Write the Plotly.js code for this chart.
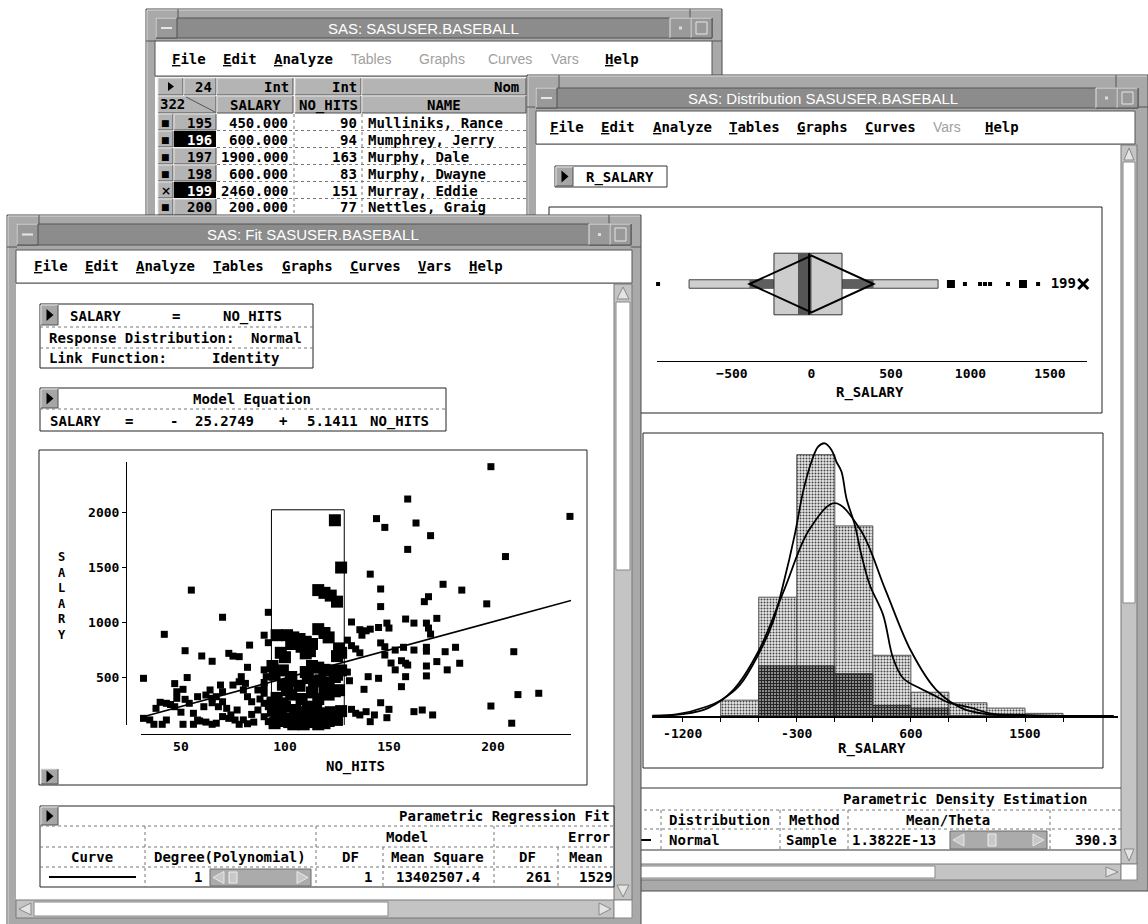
<!DOCTYPE html>
<html>
<head>
<meta charset="utf-8">
<script src="https://cdn.plot.ly/plotly-3.0.1.min.js"></script>
<style>html,body{margin:0;padding:0;background:#fff;}#chart{width:1148px;height:924px;}</style>
</head>
<body>
<div id="chart"></div>
<script>
// ================= DATA =================
// Fit window scatter: NO_HITS vs SALARY (unselected observations)
const hitsOut = [199,237,159,144,148,163,170,159,206,141,176,185,146,197,169,167,146,132,136,139,141,145,137,149,150,158,162,168,169,170,173,130,132,134,136,146,148,148,153,157,162,168,168,177,182,210,151,153,156,158,159,158,156,168,168,173,178,184,140,145,138,130,131,212,222,199,209,146,132,134,136,139,141,143,149,150,162,166,171,
  32,55,70,92,42,52,60,65,73,75,78,83,82,92,90,47,53,51,48,48,40,43,38,47,32,37,41,43,52,54,56,58,61,65,51,56,59,65,67,69,70,67,70,68,72,74,76,73,75,78,79,81,80,82,84,78,82,85,87,90,92,90,87,90,90,91,90,93,92,93,62,64,65,58,35,45,50,62,70,80,84,88,90,77];
const salaryOut = [2412,1960,2118,1940,1860,1900,1785,1660,1595,1435,1343,1290,1300,1165,1230,1185,1140,1000,930,920,935,950,880,990,945,1027,990,990,945,890,1033,835,785,755,720,810,775,700,745,770,745,770,735,730,770,730,627,565,648,625,609,503,412,600,510,640,565,625,503,488,388,545,466,340,352,236,80,266,206,170,155,185,94,155,130,206,185,200,155,
  488,1290,1043,1088,888,739,691,643,715,690,685,790,588,812,880,440,495,388,366,306,270,261,215,230,124,70,70,109,297,261,170,109,230,266,70,70,100,70,80,427,366,321,275,230,215,155,109,124,427,457,503,442,382,321,275,70,75,90,200,139,94,261,382,412,565,503,352,291,230,170,336,382,306,321,110,250,180,90,140,110,160,300,450,200];
// observations inside the brushed rectangle (selected)
const hitsSel = [124,127,116,119,122,125,94,96,101,104,107,110,113,116,119,121,103,108,112,98,100,126,127,125,111,110,95,99,103,110,113,116,119,122,125,127,111,114,117,121,124,103,99,107,101,103,113,116,121,124,126,108,96,99,119,95,98,100,102,104,106,108,110,112,114,116,118,120,122,124,127,97,105,111,117,119,100,96,113,121,125,94,95,109,115];
const salarySel = [1925,1495,1290,1265,1240,1185,600,880,880,860,845,820,800,935,900,860,800,775,735,720,680,760,720,690,775,715,520,560,500,545,600,585,565,560,520,560,490,460,470,450,500,460,430,420,380,340,360,300,340,370,380,300,310,260,390,200,160,120,90,70,100,140,180,120,90,70,110,150,180,130,190,100,200,230,170,80,230,140,160,100,110,260,80,70,200];
const labeledHits = [151];
const labeledSalary = [2460];
const labeledId = ['199'];
const fitHits = [31, 238];          // fitted line end points
const fitSalary = [134, 1198];
const brushHits = [93.5, 128.5];
const brushSalary = [40, 2020];

// Distribution window: box plot of R_SALARY
const boxQuartiles = [-236, -15, 192];   // Q1, median, Q3
const boxWhiskers = [-770, 796];
const meanSd = [0, 390.3];
const medianBand = [-85, 0];
const outliersSmall = [-965, 965, 1060, 1091, 1123, 1236, 1425];
const outliersLarge = [877, 1330];
const outlierLabeled = [1709];

// Distribution window: histogram of R_SALARY
const binLeft = [-900, -600, -300, 0, 300, 600, 900, 1200, 1500];
const binCount = [6, 45, 99, 72, 23, 9, 5, 3, 1];
const binSelected = [0, 19, 19, 16, 4, 3, 0, 0, 0];
const kernelX = [-1434,-1250,-1013,-894,-750,-605,-487,-408,-316,-250,-184,-131,-79,-26,13,53,92,158,210,276,381,460,539,671,776,881,1092,1223,1486,1881];
const kernelY = [0,0.6,3.5,6.1,11.7,23.1,35.7,49.6,68.6,85,96.3,102,103.3,100.8,96.3,92.5,82.4,72.3,61,49.6,38.3,21.8,14.3,10.5,8,5.4,2.9,1,0.4,0];
const normalX = [-1440,-1400,-1200,-1000,-800,-600,-400,-200,0,200,400,600,800,1000,1200,1400,1600,1800,2200];
const normalY = [0.1,0.13,0.7,3.0,9.9,24.7,47.7,70.7,80.6,70.7,47.7,24.7,9.9,3.0,0.7,0.13,0.02,0,0];
const histTicks = [-1200,-900,-600,-300,0,300,600,900,1200,1500,1800];
const histTickText = ['-1200','','','-300','','','600','','','1500',''];

// Data table window rows
const obsIds = ['195','196','197','198','199','200'];
const salaryCol = ['450.000','600.000','1900.000','600.000','2460.000','200.000'];
const hitsCol = ['90','94','163','83','151','77'];
const nameCol = ['Mulliniks, Rance','Mumphrey, Jerry','Murphy, Dale','Murphy, Dwayne','Murray, Eddie','Nettles, Graig'];
const rowMarks = ['■','■','■','■','×','■'];
const rowSelected = [false,true,false,false,true,false];

const menuItems = ['File','Edit','Analyze','Tables','Graphs','Curves','Vars','Help'];
const menuEnabledData = [1,1,1,0,0,0,0,1];
const menuEnabledFit = [1,1,1,1,1,1,1,1];
const menuEnabledDist = [1,1,1,1,1,1,0,1];

// ================= DRAWING HELPERS =================
const W = 1148, H = 924;
const X = v => v / W, Y = v => 1 - v / H;
const MONO = 'DejaVu Sans Mono', SANS = 'Liberation Sans';
const shapes = [], ann = [];
function rect(x0,y0,x1,y1,fill,lc,lw){
  shapes.push({type:'rect',xref:'paper',yref:'paper',x0:X(x0),x1:X(x1),y0:Y(y1),y1:Y(y0),
    fillcolor: fill || 'rgba(0,0,0,0)', line:{color: lc || 'rgba(0,0,0,0)', width: lc ? (lw||1) : 0}, layer:'below'});
}
function seg(x0,y0,x1,y1,color,w,dash){
  shapes.push({type:'line',xref:'paper',yref:'paper',x0:X(x0),x1:X(x1),y0:Y(y0),y1:Y(y1),
    line:{color:color||'#000',width:w||1,dash:dash||'solid'},layer:'below'});
}
function poly(pts,fill,lc,lw){
  const d = pts.map((p,i)=>(i?'L ':'M ')+X(p[0]).toFixed(5)+' '+Y(p[1]).toFixed(5)).join(' ')+' Z';
  shapes.push({type:'path',xref:'paper',yref:'paper',path:d,fillcolor:fill||'rgba(0,0,0,0)',
    line:{color:lc||'rgba(0,0,0,0)',width:lc?(lw||1):0},layer:'below'});
}
function txt(x,y,t,o){
  o = o || {};
  ann.push({xref:'paper',yref:'paper',x:X(x),y:Y(y),text:t,showarrow:false,
    xanchor:o.a||'left',yanchor:'middle',borderpad:0,
    font:{family:o.f||MONO,size:o.s||14,color:o.c||'#000',weight:o.w||'bold'}});
}
function raised(x0,y0,x1,y1,fill){
  rect(x0,y0,x1,y1,fill||'#b4b4b4');
  seg(x0,y0,x1,y0,'#e4e4e4'); seg(x0,y0,x0,y1,'#e4e4e4');
  seg(x0,y1,x1,y1,'#505050'); seg(x1,y0,x1,y1,'#505050');
}
function playBtn(x0,y0,x1,y1){
  raised(x0,y0,x1,y1,'#a6a6a6');
  const cx=(x0+x1)/2, cy=(y0+y1)/2;
  poly([[cx-3,cy-6],[cx+4,cy],[cx-3,cy+6]],'#000');
}
function windowChrome(w){
  rect(w.x0,w.y0,w.x1,w.y1,'#a9a9a9','#4a4a4a',1);
  seg(w.x0+1,w.y0+1,w.x1-1,w.y0+1,'#dadada'); seg(w.x0+1,w.y0+1,w.x0+1,w.y1-1,'#dadada');
  seg(w.x0+32,w.y0,w.x0+32,w.ty0,'#555'); seg(w.x1-32,w.y0,w.x1-32,w.ty0,'#555');
  seg(w.x0,w.y0+32,w.tx0,w.y0+32,'#555'); seg(w.x1,w.y0+32,w.tx1,w.y0+32,'#555');
  rect(w.tx0,w.ty0,w.tx1,w.ty1,'#8c8c8c','#555',1);
  const my=(w.ty0+w.ty1)/2;
  raised(w.tx0,w.ty0,w.tx0+21,w.ty1,'#999');
  seg(w.tx0+5,my,w.tx0+16,my,'#e6e6e6',2);
  raised(w.tx1-42,w.ty0,w.tx1-21,w.ty1,'#999');
  rect(w.tx1-33,my-1.5,w.tx1-30,my+1.5,'#dcdcdc');
  raised(w.tx1-21,w.ty0,w.tx1,w.ty1,'#999');
  rect(w.tx1-16,w.ty0+4,w.tx1-5,w.ty1-4,null,'#e6e6e6',1);
  txt(w.titleX,my+0.5,w.title,{a:'center',f:SANS,s:15,c:'#ffffff',w:'normal'});
  rect(w.mx0,w.my0,w.mx1,w.my1,'#ffffff','#555',1);
}
function menus(xs,enabled,y){
  menuItems.forEach((m,i)=>{
    if(enabled[i]) txt(xs[i],y,'<u>'+m[0]+'</u>'+m.slice(1),{});
    else txt(xs[i],y,m,{c:'#a0a0a0',w:'normal',f:SANS,s:14});
  });
}
function slider(x0,y0,x1,y1,thumb){
  rect(x0,y0,x1,y1,'#ababab','#6a6a6a',1);
  const cy=(y0+y1)/2;
  poly([[x0+14,cy-6],[x0+3,cy],[x0+14,cy+6]],'#c8c8c8','#e8e8e8',1);
  poly([[x1-14,cy-6],[x1-3,cy],[x1-14,cy+6]],'#c8c8c8','#e8e8e8',1);
  rect(thumb,y0+3,thumb+8,y1-3,'#c8c8c8','#eeeeee',1);
}
function vScroll(x0,y0,x1,y1,th0,th1){
  rect(x0,y0,x1,y1,'#c4c4c4','#777',1);
  const cx=(x0+x1)/2;
  poly([[cx,y0+3],[x0+3,y0+15],[x1-3,y0+15]],'#e4e4e4','#888',1);
  rect(x0+2,th0,x1-2,th1,'#ffffff','#888',1);
  poly([[cx,y1-3],[x0+3,y1-15],[x1-3,y1-15]],'#e4e4e4','#888',1);
}
function hScroll(x0,y0,x1,y1,th0,th1,leftArrow){
  rect(x0,y0,x1,y1,'#c4c4c4','#777',1);
  const cy=(y0+y1)/2;
  if(leftArrow) poly([[x0+3,cy],[x0+15,y0+3],[x0+15,y1-3]],'#e4e4e4','#888',1);
  rect(th0,y0+2,th1,y1-2,'#ffffff','#888',1);
  poly([[x1-3,cy],[x1-15,y0+3],[x1-15,y1-3]],'#e4e4e4','#888',1);
}

// ================= WINDOW 1: data table =================
windowChrome({x0:146,y0:9,x1:722,y1:240,tx0:156,tx1:712,ty0:18,ty1:38,title:'SAS: SASUSER.BASEBALL',titleX:423,mx0:155,my0:41,mx1:712,my1:76});
menus([171,222,273,350,418,487,550,604],menuEnabledData,59);
rect(155,77,712,240,'#ffffff');
raised(158,78,183,95,'#b4b4b4'); poly([[168,82],[174,86.5],[168,91]],'#000');
raised(184,78,216,95,'#b4b4b4'); txt(213,87,'24',{a:'right'});
raised(217,78,293,95,'#b4b4b4'); txt(290,87,'Int',{a:'right'});
raised(295,78,361,95,'#b4b4b4'); txt(358,87,'Int',{a:'right'});
raised(362,78,526,95,'#b4b4b4'); txt(520,87,'Nom',{a:'right'});
raised(158,96,216,113,'#b4b4b4'); txt(159,104,'322',{}); seg(186,97,215,112,'#555');
raised(217,96,293,113,'#b4b4b4'); txt(255,105,'SALARY',{a:'center'});
raised(295,96,361,113,'#b4b4b4'); txt(328,105,'NO_HITS',{a:'center'});
raised(362,96,526,113,'#b4b4b4'); txt(444,105,'NAME',{a:'center'});
obsIds.forEach((id,i)=>{
  const y0 = 114 + i*17, y1 = y0 + 16, cy = y0 + 8.5;
  raised(158,y0,173,y1,'#b4b4b4');
  txt(165.5,cy,rowMarks[i],{a:'center',f:'DejaVu Sans',s:rowMarks[i]==='×'?12:9});
  if(rowSelected[i]){ rect(174,y0,216,y1,'#000'); txt(213,cy,id,{a:'right',c:'#fff'}); }
  else { raised(174,y0,216,y1,'#b4b4b4'); txt(213,cy,id,{a:'right'}); }
  txt(289,cy,salaryCol[i],{a:'right'});
  txt(358,cy,hitsCol[i],{a:'right'});
  txt(367,cy,nameCol[i],{});
  seg(217,y1+0.5,526,y1+0.5,'#777',1,'dot');
});
seg(294,114,294,240,'#777',1,'dot'); seg(362,114,362,240,'#777',1,'dot');

// ================= WINDOW 2: Distribution =================
windowChrome({x0:527,y0:75,x1:1148,y1:891,tx0:536,tx1:1138,ty0:88,ty1:108,title:'SAS: Distribution SASUSER.BASEBALL',titleX:823,mx0:536,my0:111,mx1:1135,my1:144});
menus([549,600,652,728,796,864,932,984],menuEnabledDist,127);
rect(536,145,1121,864,'#ffffff');
vScroll(1121,145,1137,864,162,603);
hScroll(536,864,1121,880,541,935,false);
rect(1121,864,1137,880,'#ffffff','#888',1);
rect(555,166,667,187,'#ffffff','#333',1); playBtn(556,167,573,186); txt(585,177,'R_SALARY',{});
rect(549,207,1102,413,'#ffffff','#222',1);
rect(643,433,1103,768,'#ffffff','#222',1);
// density table
seg(536,788,1121,788,'#333',1);
seg(536,810,1121,810,'#777',1,'dot'); seg(536,829,1121,829,'#777',1,'dot');
seg(536,850,1121,850,'#333',1);
[661,780,848,1050].forEach(x=>seg(x,810,x,850,'#777',1,'dot'));
txt(1088,799,'Parametric Density Estimation',{a:'right'});
txt(668,820,'Distribution',{}); txt(788,820,'Method',{}); txt(948,820,'Mean/Theta',{a:'center'});
seg(641,840,651,840,'#000',2);
txt(668,840,'Normal',{}); txt(838,840,'Sample',{a:'right'}); txt(851,840,'1.3822E-13',{});
slider(950,831,1047,849,988);
txt(1118,840,'390.3',{a:'right'});

// ================= WINDOW 3: Fit =================
windowChrome({x0:7,y0:215,x1:641,y1:926,tx0:17,tx1:631,ty0:224,ty1:245,title:'SAS: Fit SASUSER.BASEBALL',titleX:313,mx0:16,my0:250,mx1:632,my1:283});
menus([33,84,135,212,281,349,417,468],menuEnabledFit,266);
rect(16,284,614,900,'#ffffff');
vScroll(614,284,632,900,302,570);
hScroll(16,900,614,918,34,388,true);
rect(614,900,632,918,'#ffffff','#888',1);
// model box
rect(40,304,313,368,'#ffffff','#222',1);
playBtn(41,305,58,325);
txt(69,316,'SALARY',{}); txt(171,316,'=',{}); txt(222,316,'NO_HITS',{});
seg(40,327,313,327,'#777',1,'dot');
txt(48,338,'Response Distribution:',{}); txt(303,338,'Normal',{a:'right'});
seg(40,348,313,348,'#777',1,'dot');
txt(48,358,'Link Function:',{}); txt(211,358,'Identity',{});
// equation box
rect(40,388,446,431,'#ffffff','#222',1);
playBtn(41,389,58,408);
txt(252,399,'Model Equation',{a:'center'});
seg(40,409,446,409,'#777',1,'dot');
txt(49,421,'SALARY',{}); txt(124,421,'=',{}); txt(169,421,'-',{}); txt(194,421,'25.2749',{});
txt(278,421,'+',{}); txt(306,421,'5.1411',{}); txt(369,421,'NO_HITS',{});
// scatter frame
rect(39,450,587,785,'#ffffff','#222',1);
playBtn(41,769,58,784);
// regression table
rect(40,806,614,887,'#ffffff','#222',1);
playBtn(41,807,58,825);
txt(611,816,'Parametric Regression Fit',{a:'right'});
seg(40,826,614,826,'#777',1,'dot'); seg(40,847,614,847,'#777',1,'dot'); seg(40,867,614,867,'#777',1,'dot');
[145,316,494].forEach(x=>seg(x,826,x,887,'#777',1,'dot'));
[383,558].forEach(x=>seg(x,847,x,887,'#777',1,'dot'));
txt(407,837,'Model',{a:'center'}); txt(611,837,'Error',{a:'right'});
txt(92,857,'Curve',{a:'center'}); txt(230,857,'Degree(Polynomial)',{a:'center'});
txt(350,857,'DF',{a:'center'}); txt(437,857,'Mean Square',{a:'center'});
txt(527,857,'DF',{a:'center'}); txt(586,857,'Mean',{a:'center'});
seg(49,877,136,877,'#000',2);
txt(203,877,'1',{a:'right'}); slider(210,869,311,886,229);
txt(373,877,'1',{a:'right'}); txt(481,877,'13402507.4',{a:'right'});
txt(552,877,'261',{a:'right'}); txt(614,877,'1529',{a:'right'});
// axis labels
txt(62,596,'S<br>A<br>L<br>A<br>R<br>Y',{a:'center',s:12});
txt(355,766,'NO_HITS',{a:'center'});
txt(870,392,'R_SALARY',{a:'center'});
txt(872,748,'R_SALARY',{a:'center'});

// ================= DATA-REFERENCED SHAPES =================
const dshapes = [];
// brush rectangle on scatter
dshapes.push({type:'rect',xref:'x',yref:'y',x0:brushHits[0],x1:brushHits[1],y0:brushSalary[0],y1:brushSalary[1],line:{color:'#000',width:1},fillcolor:'rgba(0,0,0,0)',layer:'below'});
// box plot
const [q1, med, q3] = boxQuartiles, [mean, sd] = meanSd;
dshapes.push({type:'rect',xref:'x2',yref:'y2',x0:boxWhiskers[0],x1:boxWhiskers[1],y0:-0.055,y1:0.055,fillcolor:'#cfcfcf',line:{color:'#444',width:1},layer:'below'});
dshapes.push({type:'rect',xref:'x2',yref:'y2',x0:mean-sd,x1:q1,y0:-0.055,y1:0.055,fillcolor:'#5e5e5e',line:{width:0},layer:'below'});
dshapes.push({type:'rect',xref:'x2',yref:'y2',x0:q3,x1:mean+sd,y0:-0.055,y1:0.055,fillcolor:'#5e5e5e',line:{width:0},layer:'below'});
dshapes.push({type:'rect',xref:'x2',yref:'y2',x0:q1,x1:q3,y0:-0.4,y1:0.4,fillcolor:'#cdcdcd',line:{color:'#333',width:1},layer:'below'});
dshapes.push({type:'rect',xref:'x2',yref:'y2',x0:medianBand[0],x1:medianBand[1],y0:-0.4,y1:0.4,fillcolor:'#555',line:{width:0},layer:'below'});
dshapes.push({type:'line',xref:'x2',yref:'y2',x0:med,x1:med,y0:-0.4,y1:0.4,line:{color:'#000',width:2},layer:'below'});
dshapes.push({type:'path',xref:'x2',yref:'y2',path:`M ${mean-sd} 0 L ${mean} 0.37 L ${mean+sd} 0 L ${mean} -0.37 Z`,line:{color:'#000',width:2},fillcolor:'rgba(0,0,0,0)',layer:'below'});

// ================= TRACES =================
const tickFont = {family:MONO,size:13,color:'#000',weight:'bold'};
const traces = [
  {type:'scatter',mode:'markers',x:hitsOut,y:salaryOut,xaxis:'x',yaxis:'y',cliponaxis:false,
   marker:{symbol:'square',size:7,color:'#000'},hoverinfo:'skip'},
  {type:'scatter',mode:'markers',x:hitsSel,y:salarySel,xaxis:'x',yaxis:'y',cliponaxis:false,
   marker:{symbol:'square',size:12,color:'#000'},hoverinfo:'skip'},
  {type:'scatter',mode:'lines',x:fitHits,y:fitSalary,xaxis:'x',yaxis:'y',line:{color:'#000',width:1.6},hoverinfo:'skip'},
  {type:'scatter',mode:'markers+text',x:labeledHits,y:labeledSalary,text:labeledId,textposition:'middle right',
   textfont:{family:MONO,size:12,color:'#000'},xaxis:'x',yaxis:'y',cliponaxis:false,
   marker:{symbol:'x-thin',size:13,color:'#000',line:{color:'#000',width:3.5}},hoverinfo:'skip'},
  // box plot outliers
  {type:'scatter',mode:'markers',x:outliersSmall,y:outliersSmall.map(()=>0),xaxis:'x2',yaxis:'y2',cliponaxis:false,
   marker:{symbol:'square',size:4,color:'#000'},hoverinfo:'skip'},
  {type:'scatter',mode:'markers',x:outliersLarge,y:outliersLarge.map(()=>0),xaxis:'x2',yaxis:'y2',cliponaxis:false,
   marker:{symbol:'square',size:8,color:'#000'},hoverinfo:'skip'},
  {type:'scatter',mode:'markers+text',x:outlierLabeled,y:[0],text:labeledId,textposition:'middle left',
   textfont:{family:MONO,size:14,color:'#000',weight:'bold'},xaxis:'x2',yaxis:'y2',cliponaxis:false,
   marker:{symbol:'x-thin',size:10,color:'#000',line:{color:'#000',width:3}},hoverinfo:'skip'},
  // histogram
  {type:'bar',x:binLeft,y:binCount,width:300,offset:0,xaxis:'x3',yaxis:'y3',
   marker:{color:'#d0d0d0',line:{color:'#555',width:1},
     pattern:{shape:'.',fgcolor:'#444',bgcolor:'#e8e8e8',size:3,solidity:0.35,fillmode:'replace'}},hoverinfo:'skip'},
  {type:'bar',x:binLeft,y:binSelected,width:300,offset:0,xaxis:'x3',yaxis:'y3',
   marker:{color:'#4e4e4e',line:{color:'#333',width:1},
     pattern:{shape:'+',fgcolor:'#1a1a1a',bgcolor:'#8a8a8a',size:3,solidity:0.5,fillmode:'replace'}},hoverinfo:'skip'},
  {type:'scatter',mode:'lines',x:normalX,y:normalY,xaxis:'x3',yaxis:'y3',line:{color:'#000',width:1.8,shape:'spline'},hoverinfo:'skip'},
  {type:'scatter',mode:'lines',x:kernelX,y:kernelY,xaxis:'x3',yaxis:'y3',line:{color:'#000',width:1.8,shape:'spline'},hoverinfo:'skip'}
];

const layout = {
  width:W, height:H, margin:{l:0,r:0,t:0,b:0,pad:0},
  paper_bgcolor:'#ffffff', plot_bgcolor:'rgba(0,0,0,0)', showlegend:false, barmode:'overlay',
  xaxis:{domain:[X(141),X(571)],range:[30.8,237.5],anchor:'free',position:Y(734),showline:true,linecolor:'#000',linewidth:1,
    ticks:'',tickvals:[50,100,150,200],tickfont:tickFont,showgrid:false,zeroline:false,fixedrange:true},
  yaxis:{domain:[Y(725),Y(462)],range:[63.6,2454.5],anchor:'free',position:X(126),showline:true,linecolor:'#000',linewidth:1,
    ticks:'outside',ticklen:4,tickcolor:'#000',tickvals:[500,1000,1500,2000],tickfont:tickFont,showgrid:false,zeroline:false,fixedrange:true},
  xaxis2:{domain:[X(657),X(1087)],range:[-971.7,1732.7],anchor:'y2',showline:true,linecolor:'#000',linewidth:1,
    ticks:'',tickvals:[-500,0,500,1000,1500],tickfont:tickFont,showgrid:false,zeroline:false,fixedrange:true},
  yaxis2:{domain:[Y(361),Y(207)],range:[-1,1],anchor:'x2',visible:false,fixedrange:true},
  xaxis3:{domain:[X(652),X(1118)],range:[-1441.6,2233.4],anchor:'y3',showline:true,linecolor:'#000',linewidth:2,
    ticks:'outside',ticklen:4,tickcolor:'#000',tickvals:histTicks,ticktext:histTickText,tickfont:tickFont,showgrid:false,zeroline:false,fixedrange:true},
  yaxis3:{domain:[Y(716),Y(433)],range:[0,107.2],anchor:'x3',visible:false,fixedrange:true},
  shapes: shapes.concat(dshapes),
  annotations: ann
};
Plotly.newPlot('chart', traces, layout, {displayModeBar:false, staticPlot:true});
</script>
</body>
</html>
